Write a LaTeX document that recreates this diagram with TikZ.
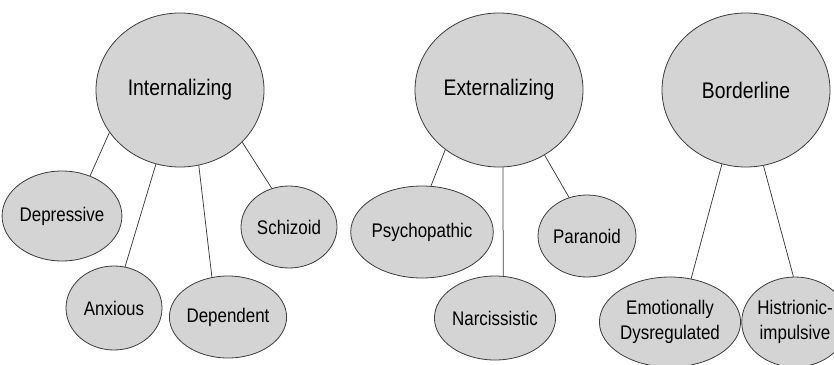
\documentclass[tikz,border=0pt]{standalone}
\usepackage{fontspec}
\setmainfont{Liberation Sans}[FakeStretch=0.86]
\usetikzlibrary{shapes.geometric}
\definecolor{bubble}{HTML}{D4D4D4}
\definecolor{rim}{HTML}{3C3C3C}
\begin{document}
\begin{tikzpicture}[x=1pt,y=-1pt,
    factor/.style={ellipse,draw=rim,fill=bubble,line width=0.8pt,inner sep=0pt,
        minimum width=168pt,minimum height=154pt,font=\fontsize{22.5}{26}\selectfont,text=black},
    trait/.style={ellipse,draw=rim,fill=bubble,line width=0.8pt,inner sep=0pt,align=center,
        font=\fontsize{19.7}{24.5}\selectfont,text=black},
    link/.style={draw=rim,line width=0.75pt}]
        \useasboundingbox (0,0) rectangle (834,364);
        %% Higher-order factors
        \node[factor] (int) at (180,90) {Internalizing};
        \node[factor] (ext) at (499,90) {Externalizing};
        \node[factor] (bor) at (746,90) {Borderline};
        %% Personality types
        \foreach \nm/\x/\y/\rx/\ry/\txt in {
            dpr/62/216/51/45/Depressive, anx/114/308/48/42/Anxious,
            dpn/228/317/52/41/Dependent, szd/289/227/48/41/Schizoid,
            psy/422/232/60/46/Psychopathic, nar/495/318/60/42/Narcissistic,
            par/587/236/49/41/Paranoid, emo/670/322/67/45/{Emotionally\\Dysregulated},
            his/795/322/53/45/{Histrionic-\\impulsive}} {
            \node[trait,minimum width=2*\rx,minimum height=2*\ry] (\nm) at (\x,\y) {\txt};
        }
        %% Links between factors and types
        \foreach \a/\b in {int.211/dpr.55, int.252/anx.75, int.284/dpn.112, int.320/szd.114,
            ext.228/psy.79, ext.273/nar.79, ext.305/par.115,
            bor.252/emo.64, bor.283/his.92} {
            \draw[link] (\a) -- (\b);
        }
    \end{tikzpicture}
\end{document}
